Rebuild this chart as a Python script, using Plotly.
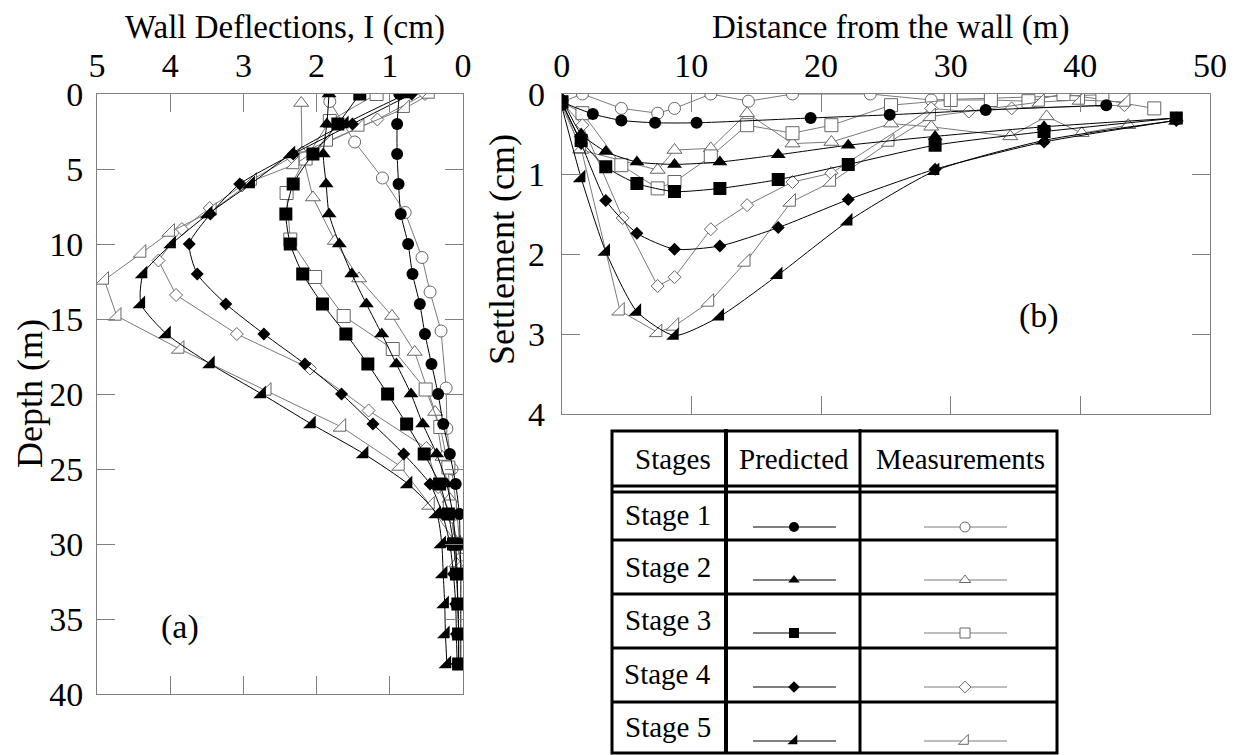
import plotly.graph_objects as go

# ---------------- data: (a) wall deflections ----------------
DEPTH_PRED = [0, 2, 4, 6, 8, 10, 12, 14, 16, 18, 20, 22, 24, 26, 28, 30, 32, 34, 36, 38]
DEFL_PRED_S1 = [0.87, 0.90, 0.90, 0.88, 0.85, 0.75, 0.69, 0.59, 0.52, 0.43, 0.34, 0.27, 0.18, 0.10, 0.05, 0.04, 0.03, 0.03, 0.03, 0.03]
DEFL_PRED_S2 = [1.83, 1.86, 1.91, 1.87, 1.83, 1.69, 1.52, 1.32, 1.11, 0.91, 0.71, 0.55, 0.36, 0.22, 0.14, 0.10, 0.08, 0.07, 0.06, 0.06]
DEFL_PRED_S3 = [1.41, 1.71, 2.05, 2.32, 2.42, 2.36, 2.19, 1.92, 1.60, 1.30, 1.03, 0.77, 0.53, 0.32, 0.20, 0.13, 0.09, 0.07, 0.06, 0.06]
DEFL_PRED_S4 = [0.70, 1.51, 2.32, 3.05, 3.45, 3.74, 3.63, 3.24, 2.72, 2.16, 1.66, 1.23, 0.81, 0.45, 0.28, 0.18, 0.13, 0.10, 0.09, 0.08]
DEFL_PRED_S5 = [0.78, 1.62, 2.35, 2.90, 3.48, 3.98, 4.37, 4.40, 4.05, 3.45, 2.75, 2.07, 1.35, 0.75, 0.36, 0.29, 0.27, 0.25, 0.24, 0.22]

DEPTH_MEAS_S1 = [0.5, 3.2, 5.6, 7.9, 10.9, 13.2, 15.8, 19.6, 22.3, 25.0, 28.0, 31.0]
DEFL_MEAS_S1 = [1.82, 1.48, 1.10, 0.79, 0.56, 0.45, 0.30, 0.23, 0.22, 0.15, 0.08, 0.03]
DEPTH_MEAS_S2 = [0.6, 3.9, 6.9, 9.8, 12.3, 14.8, 17.2, 21.2, 24.2, 27.0, 29.7, 31.3]
DEFL_MEAS_S2 = [2.21, 2.20, 2.05, 1.75, 1.42, 0.97, 0.66, 0.38, 0.28, 0.18, 0.12, 0.09]
DEPTH_MEAS_S3 = [0.0, 1.8, 4.3, 6.6, 9.7, 12.2, 14.8, 17.0, 19.7, 22.2, 24.9, 27.5, 30.0]
DEFL_MEAS_S3 = [1.18, 1.82, 2.15, 2.41, 2.36, 2.02, 1.63, 0.96, 0.51, 0.31, 0.20, 0.18, 0.10]
DEPTH_MEAS_S4 = [0.0, 1.7, 4.2, 6.1, 7.6, 9.0, 11.1, 13.4, 16.0, 18.3, 21.1, 23.6, 26.2, 28.2, 31.5]
DEFL_MEAS_S4 = [0.52, 1.17, 2.34, 3.02, 3.46, 3.84, 4.16, 3.92, 3.09, 2.09, 1.29, 0.50, 0.34, 0.15, 0.02]
DEPTH_MEAS_S5 = [0.0, 0.95, 2.2, 3.2, 4.7, 5.8, 7.8, 9.2, 10.6, 12.4, 14.8, 17.0, 19.8, 22.2, 24.8, 27.4, 30.0, 31.7]
DEFL_MEAS_S5 = [0.45, 0.79, 1.41, 1.84, 2.30, 2.88, 3.43, 4.00, 4.39, 4.90, 4.73, 3.87, 2.68, 1.66, 0.86, 0.45, 0.09, 0.0]

# ---------------- data: (b) ground settlement ----------------
DIST_PRED_S1 = [0, 2.4, 4.6, 7.2, 10.4, 19.2, 25.3, 32.7, 42.0]
SETT_PRED_S1 = [0.10, 0.25, 0.33, 0.36, 0.36, 0.30, 0.26, 0.20, 0.14]
DIST_PRED = [0, 1.5, 3.4, 5.8, 8.7, 12.2, 16.7, 22.1, 28.8, 37.2, 47.4]
SETT_PRED_S2 = [0.05, 0.50, 0.72, 0.85, 0.88, 0.85, 0.76, 0.64, 0.53, 0.41, 0.30]
SETT_PRED_S3 = [0.10, 0.58, 0.91, 1.12, 1.22, 1.18, 1.07, 0.88, 0.64, 0.47, 0.30]
SETT_PRED_S4 = [0.10, 0.62, 1.33, 1.74, 1.94, 1.90, 1.67, 1.32, 0.94, 0.60, 0.33]
SETT_PRED_S5 = [0.15, 1.05, 1.97, 2.72, 3.02, 2.78, 2.26, 1.59, 0.96, 0.58, 0.33]

DIST_MEAS_S1 = [0, 1.6, 4.6, 7.4, 8.7, 11.5, 14.4, 17.8, 23.8, 28.5, 41.7]
SETT_MEAS_S1 = [0.10, 0.0, 0.18, 0.24, 0.18, 0.0, 0.09, 0.0, 0.0, 0.075, 0.01]
DIST_MEAS_S2 = [0, 1.5, 7.4, 8.7, 11.5, 14.3, 17.8, 20.8, 25.4, 28.5, 34.6, 37.4, 40.1, 43.7]
SETT_MEAS_S2 = [0.10, 0.70, 0.95, 0.70, 0.68, 0.24, 0.62, 0.60, 0.37, 0.41, 0.53, 0.28, 0.49, 0.39]
DIST_MEAS_S3 = [0, 1.6, 4.6, 7.4, 8.7, 11.5, 14.3, 17.8, 20.8, 25.4, 30.0, 33.1, 36.0, 38.7, 41.7, 45.7]
SETT_MEAS_S3 = [0.10, 0.24, 0.89, 1.18, 1.10, 0.78, 0.39, 0.49, 0.39, 0.14, 0.075, 0.075, 0.09, 0.0, 0.07, 0.18]
DIST_MEAS_S4 = [0, 1.6, 4.7, 7.4, 8.7, 11.5, 14.3, 17.8, 20.8, 28.5, 31.4, 34.7, 43.4]
SETT_MEAS_S4 = [0.10, 0.39, 1.55, 2.40, 2.29, 1.69, 1.39, 1.10, 0.99, 0.18, 0.22, 0.18, 0.14]
DIST_MEAS_S5 = [0, 1.5, 4.5, 7.4, 8.7, 11.4, 14.2, 17.7, 20.8, 25.3, 28.5, 36.9, 40.0, 43.5]
SETT_MEAS_S5 = [0.15, 0.68, 2.71, 2.98, 2.90, 2.60, 2.10, 1.35, 1.10, 0.60, 0.28, 0.10, 0.075, 0.10]

STAGES = ["Stage 1", "Stage 2", "Stage 3", "Stage 4", "Stage 5"]
X_TICKS_A = [0, 1, 2, 3, 4, 5]
Y_TICKS_A = [0, 5, 10, 15, 20, 25, 30, 35, 40]
X_TICKS_B = [0, 10, 20, 30, 40, 50]
Y_TICKS_B = [0, 1, 2, 3, 4]

# ---------------- styles ----------------
FONT = "Liberation Serif, Times New Roman, serif"
SYMBOLS = ["circle", "triangle-up", "square", "diamond", "triangle-se"]
SIZES = [12, 13, 13, 10, 14]
SAMPLE_SIZES = [10, 10, 10, 9, 11]
PRED_COLOR = "black"
MEAS_COLOR = "#7a7a7a"
MEAS_EDGE = "#666666"
AXIS_COLOR = "#808080"

# page geometry: the figure sits inside the default 8px body margin
SCREEN_W, SCREEN_H = 1239, 755
OFF = 8
W, H = SCREEN_W - OFF, SCREEN_H - OFF


def dx(px0, px1):
    return [(px0 - OFF) / W, (px1 - OFF) / W]


def dy(top, bottom):
    return [(SCREEN_H - bottom) / H, (SCREEN_H - top) / H]


pred_a = [DEFL_PRED_S1, DEFL_PRED_S2, DEFL_PRED_S3, DEFL_PRED_S4, DEFL_PRED_S5]
meas_a = [(DEFL_MEAS_S1, DEPTH_MEAS_S1), (DEFL_MEAS_S2, DEPTH_MEAS_S2), (DEFL_MEAS_S3, DEPTH_MEAS_S3),
          (DEFL_MEAS_S4, DEPTH_MEAS_S4), (DEFL_MEAS_S5, DEPTH_MEAS_S5)]
pred_b = [(DIST_PRED_S1, SETT_PRED_S1), (DIST_PRED, SETT_PRED_S2), (DIST_PRED, SETT_PRED_S3),
          (DIST_PRED, SETT_PRED_S4), (DIST_PRED, SETT_PRED_S5)]
meas_b = [(DIST_MEAS_S1, SETT_MEAS_S1), (DIST_MEAS_S2, SETT_MEAS_S2), (DIST_MEAS_S3, SETT_MEAS_S3),
          (DIST_MEAS_S4, SETT_MEAS_S4), (DIST_MEAS_S5, SETT_MEAS_S5)]

fig = go.Figure()


def meas_trace(x, y, i, xa, ya):
    return go.Scatter(x=x, y=y, xaxis=xa, yaxis=ya, mode="lines+markers",
                      line=dict(color=MEAS_COLOR, width=1),
                      marker=dict(symbol=SYMBOLS[i], size=SIZES[i], color="white",
                                  line=dict(color=MEAS_EDGE, width=1)),
                      showlegend=False, hoverinfo="skip")


def pred_trace(x, y, i, xa, ya):
    return go.Scatter(x=x, y=y, xaxis=xa, yaxis=ya, mode="lines+markers",
                      line=dict(color=PRED_COLOR, width=1, shape="spline", smoothing=0.6),
                      marker=dict(symbol=SYMBOLS[i], size=SIZES[i], color="black",
                                  line=dict(width=0)),
                      showlegend=False, hoverinfo="skip")


for i in range(5):
    fig.add_trace(meas_trace(meas_a[i][0], meas_a[i][1], i, "x", "y"))
    fig.add_trace(meas_trace(meas_b[i][0], meas_b[i][1], i, "x2", "y2"))
for i in range(5):
    fig.add_trace(pred_trace(pred_a[i], DEPTH_PRED, i, "x", "y"))
    fig.add_trace(pred_trace(pred_b[i][0], pred_b[i][1], i, "x2", "y2"))

# ---------------- legend table (axis 3 in screen-pixel units) ----------------
TX0, TX1 = 612, 1057
COL1, COL2 = 726, 860
TY0, TY1 = 431, 753
HEAD_Y = [486, 492]
ROW_LINES = [540, 594, 648, 702]
ROW_TEXT_Y = [515, 567, 620, 674, 727]
SAMPLE_Y = [527, 580, 633, 687, 741]

shapes = []


def seg(x0, y0, x1, y1, w):
    shapes.append(dict(type="line", xref="x3", yref="y3", x0=x0, y0=y0, x1=x1, y1=y1,
                       line=dict(color="black", width=w)))


shapes.append(dict(type="rect", xref="x3", yref="y3", x0=TX0, y0=TY0, x1=TX1, y1=TY1,
                   line=dict(color="black", width=3), fillcolor="rgba(0,0,0,0)"))
seg(COL1, TY0 - 2, COL1, TY1, 4)
seg(COL2, TY0 - 2, COL2, TY1, 3)
for yy in HEAD_Y:
    seg(TX0, yy, TX1, yy, 3)
for yy in ROW_LINES:
    seg(TX0, yy, TX1, yy, 3)

annotations = []


def text(x, y, s, anchor="center", xref="x3", yref="y3", size=29, angle=0, pad=1):
    annotations.append(dict(x=x, y=y, xref=xref, yref=yref, text=s, showarrow=False,
                            xanchor=anchor, yanchor="middle", textangle=angle, borderpad=pad,
                            font=dict(family=FONT, size=size, color="black")))


text(713, 459, "Stages", "right")
text(794, 459, "Predicted")
text(960, 459, "Measurements")
for k in range(5):
    text(713, ROW_TEXT_Y[k], STAGES[k], "right")
    fig.add_trace(go.Scatter(x=[753, 836], y=[SAMPLE_Y[k]] * 2, xaxis="x3", yaxis="y3", mode="lines",
                             line=dict(color="black", width=1), showlegend=False, hoverinfo="skip"))
    fig.add_trace(go.Scatter(x=[794], y=[SAMPLE_Y[k]], xaxis="x3", yaxis="y3", mode="markers",
                             marker=dict(symbol=SYMBOLS[k], size=SAMPLE_SIZES[k], color="black"),
                             showlegend=False, hoverinfo="skip"))
    fig.add_trace(go.Scatter(x=[924, 1007], y=[SAMPLE_Y[k]] * 2, xaxis="x3", yaxis="y3", mode="lines",
                             line=dict(color=MEAS_COLOR, width=1), showlegend=False, hoverinfo="skip"))
    fig.add_trace(go.Scatter(x=[965], y=[SAMPLE_Y[k]], xaxis="x3", yaxis="y3", mode="markers",
                             marker=dict(symbol=SYMBOLS[k], size=SAMPLE_SIZES[k], color="white",
                                         line=dict(color=MEAS_EDGE, width=1)),
                             showlegend=False, hoverinfo="skip"))

# axis titles and panel labels
text(285, 27, "Wall Deflections, I (cm)", size=33, pad=0)
text(890, 27, "Distance from the wall (m)", size=33, pad=0)
text(30, 394, "Depth (m)", size=36, angle=-90)
text(502, 250, "Settlement (cm)", size=36, angle=-90)
text(3.87, 35.5, "(a)", "center", "x", "y", 34)
text(36.8, 2.78, "(b)", "center", "x2", "y2", 34)

axis_common = dict(showline=True, linecolor=AXIS_COLOR, linewidth=1, mirror="allticks",
                   ticks="inside", ticklen=18, tickcolor=AXIS_COLOR, tickwidth=1,
                   showgrid=False, zeroline=False, automargin=False,
                   tickfont=dict(family=FONT, size=34, color="black"))

fig.update_layout(
    width=W, height=H,
    margin=dict(l=0, r=0, t=0, b=0, autoexpand=False),
    paper_bgcolor="white", plot_bgcolor="rgba(0,0,0,0)",
    showlegend=False,
    xaxis=dict(domain=dx(97, 463), range=[5, 0], side="top", tickvals=X_TICKS_A,
               ticklabelstandoff=2, anchor="y", **axis_common),
    yaxis=dict(domain=dy(94, 694), range=[40, 0], tickvals=Y_TICKS_A,
               ticklabelstandoff=6, anchor="x", **axis_common),
    xaxis2=dict(domain=dx(561.7, 1210), range=[0, 50], side="top", tickvals=X_TICKS_B,
                ticklabelstandoff=2, anchor="y2", **axis_common),
    yaxis2=dict(domain=dy(94, 414), range=[4, 0], tickvals=Y_TICKS_B,
                ticklabelstandoff=9, anchor="x2", **axis_common),
    xaxis3=dict(domain=[0, 1], range=[OFF, SCREEN_W], visible=False, fixedrange=True),
    yaxis3=dict(domain=[0, 1], range=[SCREEN_H, OFF], visible=False, fixedrange=True),
    shapes=shapes,
    annotations=annotations,
)

fig.write_html("out.html")
